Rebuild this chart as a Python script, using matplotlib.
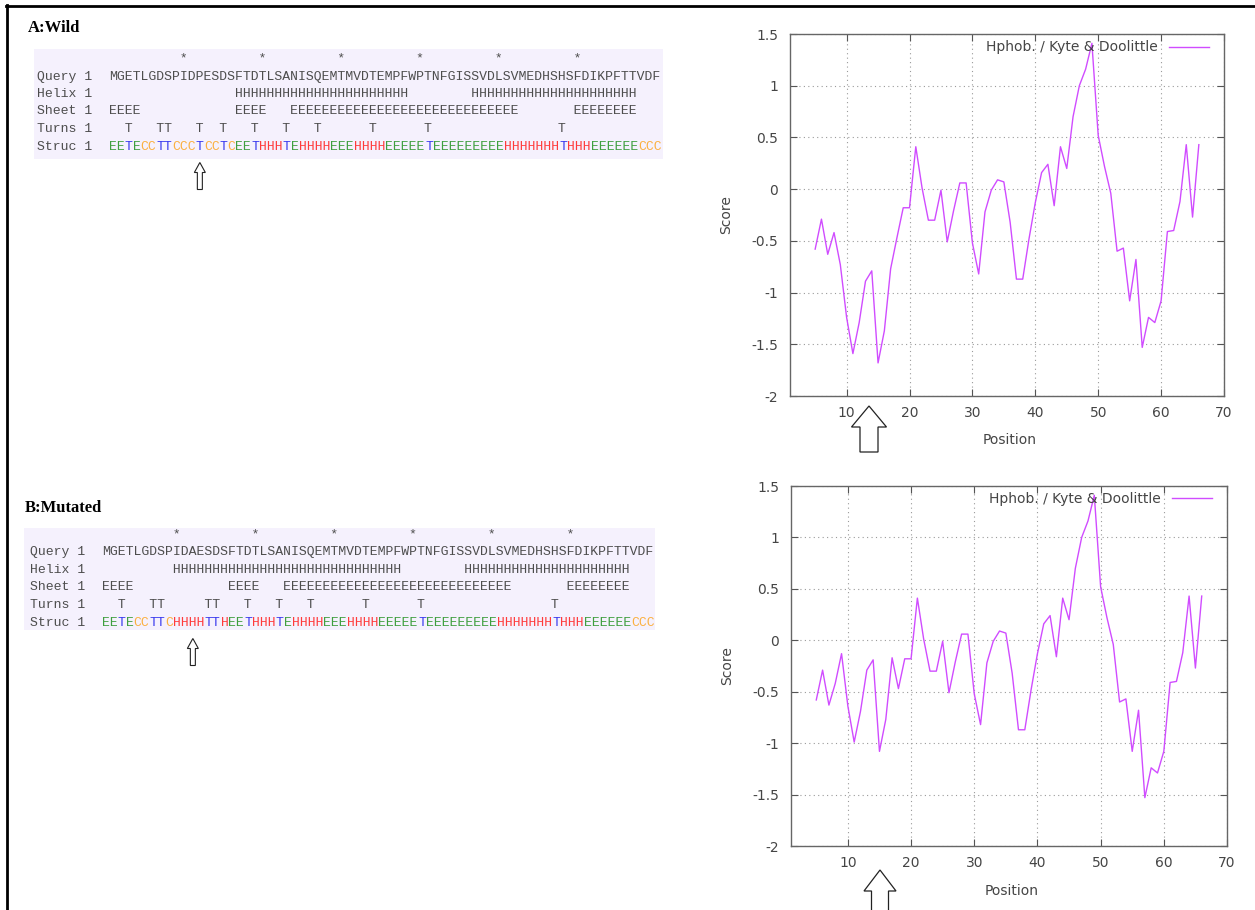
import numpy as np
import matplotlib
matplotlib.use('Agg')
import matplotlib.pyplot as plt
from matplotlib.patches import Rectangle, Polygon
from matplotlib.lines import Line2D

plt.rcParams['axes.unicode_minus'] = False

W, H = 1255, 910

# ---- secondary structure panels (A: wild, B: mutated) ----
query_wild = 'MGETLGDSPIDPESDSFTDTLSANISQEMTMVDTEMPFWPTNFGISSVDLSVMEDHSHSFDIKPFTTVDF'
query_mut = 'MGETLGDSPIDAESDSFTDTLSANISQEMTMVDTEMPFWPTNFGISSVDLSVMEDHSHSFDIKPFTTVDF'
star_pos = [10, 20, 30, 40, 50, 60]
helix_wild = [(17, 38), (47, 67)]
helix_mut = [(10, 38), (47, 67)]
sheet_wild = [(1, 4), (17, 20), (24, 52), (60, 67)]
sheet_mut = [(1, 4), (17, 20), (24, 52), (60, 67)]
turns_wild = [3, 7, 8, 12, 15, 19, 23, 27, 34, 41, 58]
turns_mut = [3, 7, 8, 14, 15, 19, 23, 27, 34, 41, 58]
struc_tail = ['EET', 'HHHT', 'E', 'HHHH', 'EEE', 'HHHH', 'EEEEE', 'T', 'EEEEEEEEE',
              'HHHHHHH', 'T', 'HHH', 'EEEEEE', 'CCC']
struc_wild = ''.join(['EETECCTTCCCTCCTC'] + struc_tail)
struc_mut = ''.join(['EETECCTTCHHHHTTH'] + struc_tail)
mutation_site = 12

# ---- Kyte & Doolittle hydrophobicity profiles (window 9) ----
position = list(range(5, 67))
score_wild = [-0.58, -0.29, -0.63, -0.42, -0.73, -1.24, -1.59, -1.29, -0.89, -0.79,
              -1.68, -1.37, -0.77, -0.47, -0.18, -0.18, 0.41, 0.01, -0.30, -0.30,
              -0.01, -0.51, -0.21, 0.06, 0.06, -0.52, -0.82, -0.22, -0.01, 0.09,
              0.07, -0.32, -0.87, -0.87, -0.48, -0.13, 0.16, 0.24, -0.16, 0.41,
              0.20, 0.70, 1.00, 1.16, 1.41, 0.52, 0.22, -0.04, -0.60, -0.57,
              -1.08, -0.68, -1.53, -1.24, -1.29, -1.08, -0.41, -0.40, -0.12, 0.43,
              -0.27, 0.43]
score_mut = [-0.58, -0.29, -0.63, -0.42, -0.13, -0.64, -0.99, -0.69, -0.29, -0.19,
             -1.08, -0.77, -0.17, -0.47, -0.18, -0.18, 0.41, 0.01, -0.30, -0.30,
             -0.01, -0.51, -0.21, 0.06, 0.06, -0.52, -0.82, -0.22, -0.01, 0.09,
             0.07, -0.32, -0.87, -0.87, -0.48, -0.13, 0.16, 0.24, -0.16, 0.41,
             0.20, 0.70, 1.00, 1.16, 1.41, 0.52, 0.22, -0.04, -0.60, -0.57,
             -1.08, -0.68, -1.53, -1.24, -1.29, -1.08, -0.41, -0.40, -0.12, 0.43,
             -0.27, 0.43]
xticks = [10, 20, 30, 40, 50, 60, 70]
yticks = [-2, -1.5, -1, -0.5, 0, 0.5, 1, 1.5]
ylabels = ['-2', '-1.5', '-1', '-0.5', '0', '0.5', '1', '1.5']
legend_label = 'Hphob. / Kyte & Doolittle'

STRUC_COLORS = {'E': '#3f9f3f', 'T': '#3a3aee', 'C': '#fbb040', 'H': '#ff3b3b'}
SEQ_GRAY = '#4d4d4d'
LINE_C = '#d04cff'
CW = 7.9                     # character width in px
MONO_PT = CW / 0.6 * 0.72    # Liberation Mono advance = 0.6 em

fig = plt.figure(figsize=(W / 100, H / 100), dpi=100)


def fx(x):
    return x / W


def fy(y):
    return 1 - y / H


def ranges_to_str(ranges, ch):
    s = [' '] * 70
    for a, b in ranges:
        for i in range(a - 1, b):
            s[i] = ch
    return ''.join(s)


def marks_to_str(marks, ch):
    s = [' '] * 70
    for p in marks:
        s[p - 1] = ch
    return ''.join(s)


def hollow_arrow(tip_x, tip_y, head_y, bottom_y, head_hw, shaft_hw, lw):
    pts = [(tip_x, tip_y), (tip_x + head_hw, head_y), (tip_x + shaft_hw, head_y),
           (tip_x + shaft_hw, bottom_y), (tip_x - shaft_hw, bottom_y),
           (tip_x - shaft_hw, head_y), (tip_x - head_hw, head_y)]
    pts = [(fx(a), fy(b)) for a, b in pts]
    fig.add_artist(Polygon(pts, closed=True, transform=fig.transFigure,
                           facecolor='white', edgecolor='#222222', lw=lw))


def seq_panel(title, title_xy, box, label_x, seq_x, rows_y, query, helix, sheet,
              turns, struc):
    fig.text(fx(title_xy[0]), fy(title_xy[1]), title, family='Liberation Serif',
             weight='bold', fontsize=12, va='center', ha='left', color='black')
    x0, y0, x1, y1 = box
    fig.add_artist(Rectangle((fx(x0), fy(y1)), fx(x1 - x0), (y1 - y0) / H,
                             transform=fig.transFigure, facecolor='#f5f1fd',
                             edgecolor='none'))
    rows = [('', marks_to_str(star_pos, '*')),
            ('Query 1', query),
            ('Helix 1', ranges_to_str(helix, 'H')),
            ('Sheet 1', ranges_to_str(sheet, 'E')),
            ('Turns 1', marks_to_str(turns, 'T'))]
    kw = dict(family='Liberation Mono', fontsize=MONO_PT, va='baseline', ha='left')
    for (lab, s), y in zip(rows, rows_y[:5]):
        if lab:
            fig.text(fx(label_x), fy(y), lab, color=SEQ_GRAY, **kw)
        fig.text(fx(seq_x), fy(y), s, color=SEQ_GRAY, **kw)
    ys = rows_y[5]
    fig.text(fx(label_x), fy(ys), 'Struc 1', color=SEQ_GRAY, **kw)
    i = 0
    while i < len(struc):
        j = i
        while j < len(struc) and struc[j] == struc[i]:
            j += 1
        fig.text(fx(seq_x + i * CW), fy(ys), struc[i:j],
                 color=STRUC_COLORS[struc[i]], **kw)
        i = j
    ax_x = seq_x + (mutation_site - 0.5) * CW
    hollow_arrow(ax_x, ys + 13, ys + 23, ys + 40, 5.5, 2.5, 0.8)


seq_panel('A:Wild', (28, 28), (34, 49, 663, 159), 36.7, 109,
          [62, 80.1, 96.8, 114.1, 132.5, 149.5],
          query_wild, helix_wild, sheet_wild, turns_wild, struc_wild)
seq_panel('B:Mutated', (25, 508), (24, 528, 655, 630), 30.3, 102,
          [537.7, 555.5, 572.8, 590.5, 608.1, 625.5],
          query_mut, helix_mut, sheet_mut, turns_mut, struc_mut)


# ---- hydrophobicity plots ----
def profile(rect_px, score, label_y):
    l, t, r, b = rect_px
    ax = fig.add_axes([fx(l), fy(b), fx(r - l), (b - t) / H])
    ax.plot(position, score, color=LINE_C, lw=1.0, label=legend_label)
    ax.set_xlim(1, 70)
    ax.set_ylim(-2, 1.5)
    ax.set_xticks(xticks)
    ax.set_yticks(yticks)
    ax.set_yticklabels(ylabels)
    ax.grid(True, linestyle=(0, (1, 3)), color='#9a9a9a', lw=0.8)
    ax.tick_params(direction='in', top=True, right=True, length=5, width=0.8,
                   color='#555555', labelcolor='#454545', labelsize=10)
    ax.tick_params(axis='x', pad=7)
    ax.tick_params(axis='y', pad=8.5)
    for sp in ax.spines.values():
        sp.set_color('#666666')
        sp.set_linewidth(1.0)
    ax.set_xlabel('Position', fontsize=10, color='#454545')
    ax.set_ylabel('Score', fontsize=10, color='#454545')
    ax.xaxis.set_label_coords(0.505, label_y[0])
    ax.yaxis.set_label_coords(label_y[1], 0.5)
    ax.legend(loc='center right', bbox_to_anchor=(0.966, 0.963), frameon=False,
              markerfirst=False, handlelength=2.9, handletextpad=0.8,
              borderpad=0, borderaxespad=0, fontsize=10, labelcolor='#454545')
    return ax


ax1 = profile((790, 34, 1224, 396), score_wild, (-0.102, -0.13))
ax2 = profile((791, 486, 1227, 846), score_mut, (-0.105, -0.13))

hollow_arrow(869, 406, 427, 452, 17.5, 9, 0.9)
hollow_arrow(880, 870, 891, 920, 16, 8.5, 0.9)

# figure border (top and left)
fig.add_artist(Line2D([fx(6), 1.0], [fy(6), fy(6)], transform=fig.transFigure,
                      color='black', lw=2))
fig.add_artist(Line2D([fx(7), fx(7)], [fy(5), 0.0], transform=fig.transFigure,
                      color='black', lw=2))

fig.savefig('out.png', dpi=100, facecolor='white')
